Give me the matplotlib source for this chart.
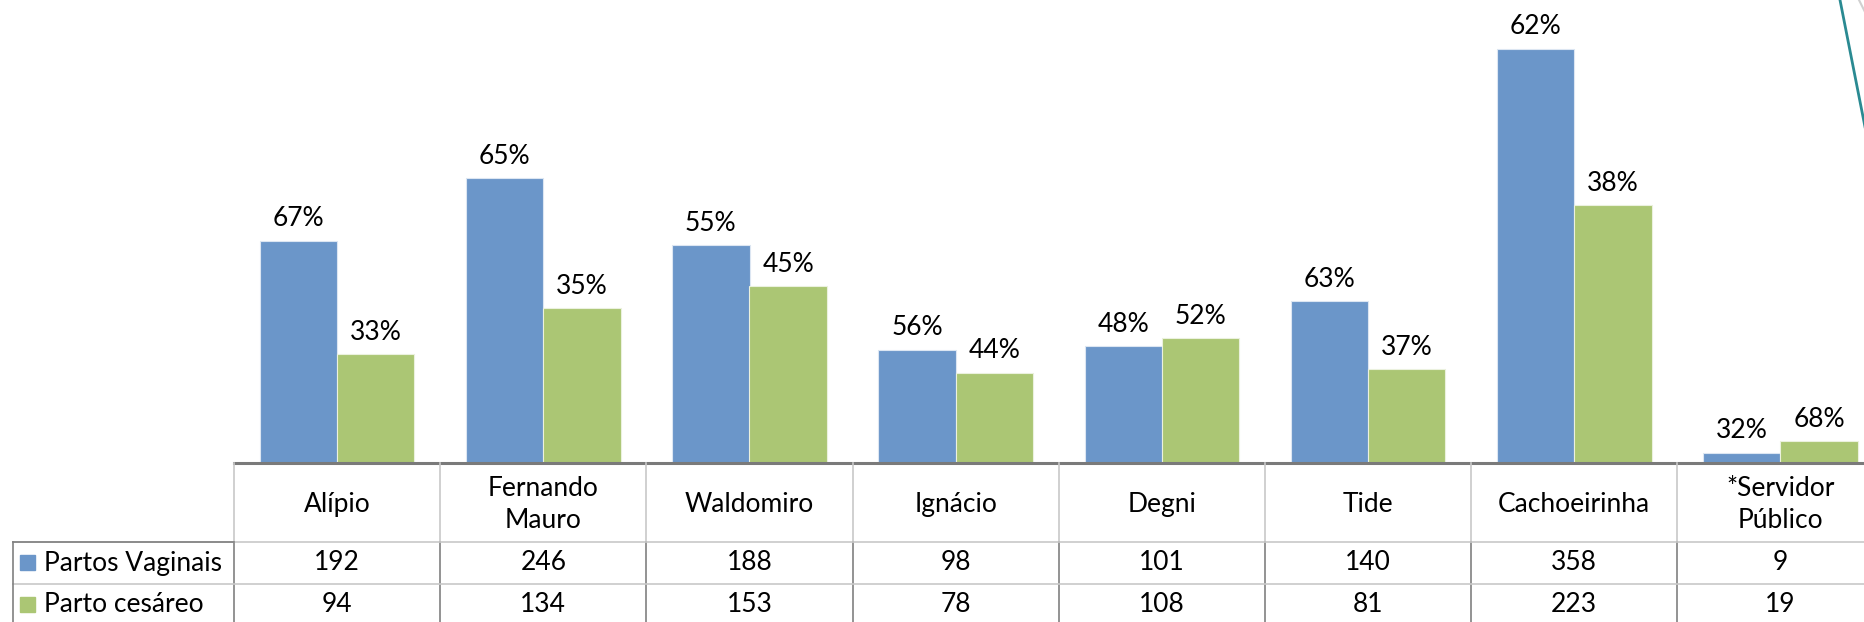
import matplotlib.pyplot as plt
from matplotlib.lines import Line2D
from matplotlib.patches import Rectangle
from matplotlib import transforms
import numpy as np

plt.rcParams["font.family"] = ["Lato", "DejaVu Sans"]

categories = ["Alípio", "Fernando\nMauro", "Waldomiro", "Ignácio", "Degni",
              "Tide", "Cachoeirinha", "*Servidor\nPúblico"]
series_names = ["Partos Vaginais", "Parto cesáreo"]
vaginais = [192, 246, 188, 98, 101, 140, 358, 9]
cesareo = [94, 134, 153, 78, 108, 81, 223, 19]

blue = "#6B96C9"
green = "#ABC674"
W, H = 1865, 622


def fx(x):
    return x / W


def fy(y):
    return 1 - y / H


fig = plt.figure(figsize=(W / 100, H / 100), dpi=100)
# plot area: 8 columns of ~206px starting at x=234, last column cut by the edge
colw = 206.2
ax = fig.add_axes([fx(234), fy(463), 8 * colw / W, 463 / H])
ax.set_xlim(-0.5, 7.5)
ax.set_ylim(0, 400)
ax.axis("off")

x = np.arange(len(categories))
bw = 0.375
tot = np.array(vaginais) + np.array(cesareo)
b1 = ax.bar(x - bw / 2, vaginais, bw, color=blue, edgecolor="#DCE6F2", linewidth=0.8)
b2 = ax.bar(x + bw / 2, cesareo, bw, color=green, edgecolor="#EBF1DE", linewidth=0.8)

for bars, vals in ((b1, vaginais), (b2, cesareo)):
    for r, v, t in zip(bars, vals, tot):
        ax.text(r.get_x() + r.get_width() / 2, v + 8, f"{round(v / t * 100)}%",
                ha="center", va="bottom", fontsize=19)

# data table under the chart
tr = transforms.blended_transform_factory(ax.transData, fig.transFigure)
top, r1, r2, bot = 463, 542, 584, 626
light = "#C8C8C8"
dark = "#808080"
fs = 19

fig.add_artist(Line2D([fx(234), 1], [fy(top), fy(top)], color="#7A7A7A", lw=2.2))
for i in range(len(categories) + 1):
    xb = i - 0.5
    fig.add_artist(Line2D([xb, xb], [fy(top), fy(r1)], color=light, lw=1.2, transform=tr))
    fig.add_artist(Line2D([xb, xb], [fy(r1), fy(bot)], color=dark, lw=1.2, transform=tr))
for yy in (r1, r2):
    fig.add_artist(Line2D([fx(13), 1], [fy(yy), fy(yy)], color=light, lw=1.2))
fig.add_artist(Line2D([fx(13), fx(234)], [fy(r1), fy(r1)], color=dark, lw=1.2))
fig.add_artist(Line2D([fx(13), fx(13)], [fy(r1), fy(bot)], color=dark, lw=1.2))

for i, c in enumerate(categories):
    fig.text(i, fy((top + r1) / 2 + 2), c, ha="center", va="center",
             fontsize=fs, transform=tr, linespacing=1.4)
    fig.text(i, fy((r1 + r2) / 2), str(vaginais[i]), ha="center", va="center",
             fontsize=fs, transform=tr)
    fig.text(i, fy(605), str(cesareo[i]), ha="center", va="center",
             fontsize=fs, transform=tr)

for name, col, yc in ((series_names[0], blue, (r1 + r2) / 2), (series_names[1], green, 605)):
    fig.add_artist(Rectangle((fx(20), fy(yc + 7)), fx(15), 15 / H, color=col))
    fig.text(fx(44), fy(yc), name, ha="left", va="center", fontsize=fs)

# decorative line cutting in at the top right
fig.add_artist(Line2D([fx(1840), fx(1866)], [fy(0), fy(132)], color="#2A8A92", lw=2))
fig.add_artist(Line2D([fx(1859), fx(1866)], [fy(0), fy(14)], color="#D0D0D0", lw=1.5))

fig.savefig("out.png", dpi=100)
